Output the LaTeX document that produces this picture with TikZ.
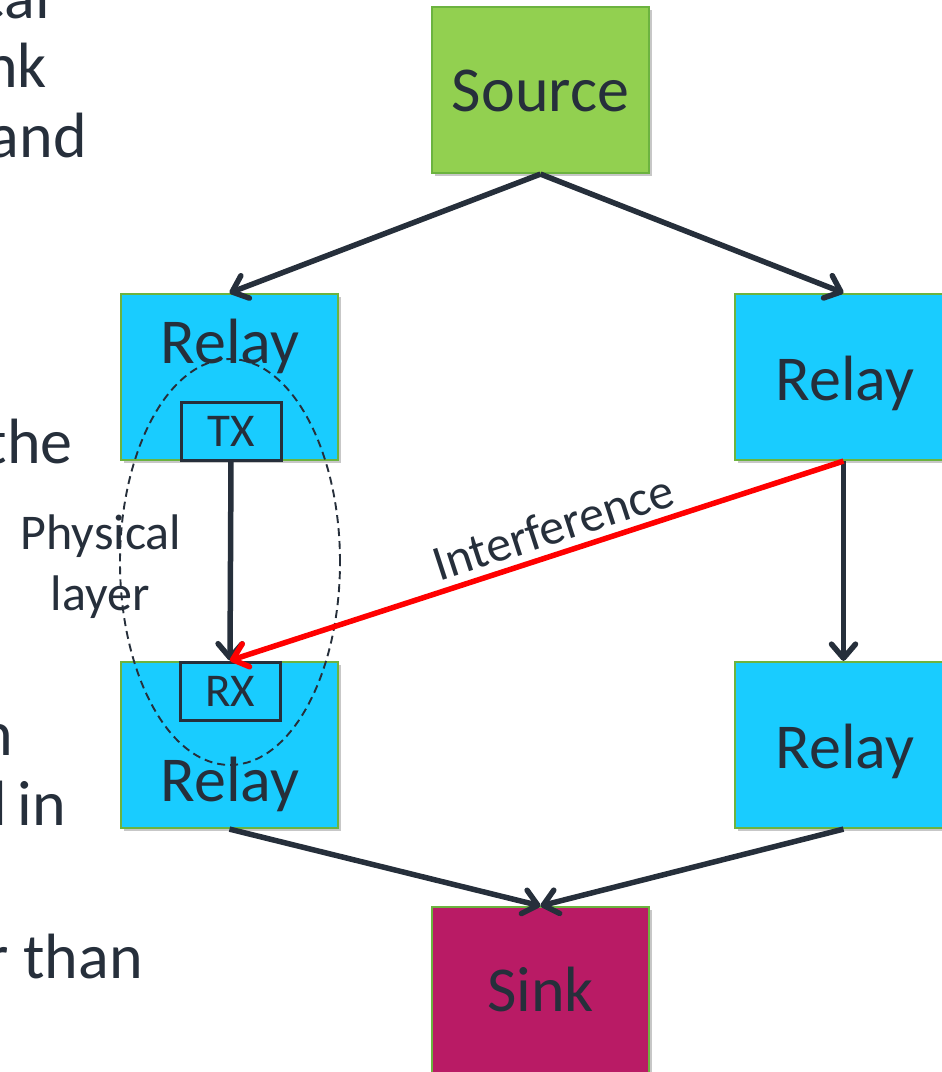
\documentclass[tikz,border=0pt]{standalone}
\usepackage{fontspec}
\setmainfont{Carlito}
\usetikzlibrary{arrows.meta,shadows,shapes.geometric}
\definecolor{txt}{HTML}{262F3B}
\definecolor{srcgreen}{HTML}{92D050}
\definecolor{boxline}{HTML}{6CB33F}
\definecolor{relaycyan}{HTML}{19CCFF}
\definecolor{sinkmag}{HTML}{B91B65}
\tikzset{
  nodebox/.style={rectangle, draw=boxline, line width=2.2pt, minimum width=217pt, minimum height=166pt, inner sep=0pt,
    drop shadow={shadow xshift=2.5pt, shadow yshift=-3pt, opacity=0.22, fill=black}},
  relaybox/.style={nodebox, fill=relaycyan},
  trxbox/.style={rectangle, draw=txt, line width=3pt, fill=relaycyan, minimum width=100pt, minimum height=58pt, inner sep=0pt,
    font=\fontsize{47}{55}\selectfont, text=txt},
  bigtext/.style={font=\fontsize{64}{76}\selectfont, text=txt, inner sep=0pt},
  midtext/.style={font=\fontsize{50}{60}\selectfont, text=txt, inner sep=0pt},
  flow/.style={draw=txt, line width=5.5pt, -{Straight Barb[length=14pt, width=24pt, line width=5.5pt, round]}},
  interf/.style={draw=red, line width=5.5pt, -{Straight Barb[length=14pt, width=24pt, line width=5.5pt, round]}},
}
\begin{document}
\begin{tikzpicture}[x=1pt,y=-1pt]
\useasboundingbox (0,0) rectangle (942,1072);
% boxes
\node[nodebox, fill=srcgreen] (src) at (540.5,90) {};
\node[relaybox] (rlt) at (229.5,377) {};
\node[relaybox] (rrt) at (843.5,377) {};
\node[relaybox] (rlb) at (229.5,745) {};
\node[relaybox] (rrb) at (843.5,745) {};
\node[nodebox, fill=sinkmag] (sink) at (540.5,990) {};
% TX / RX
\node[trxbox] (tx) at (231,431) {TX};
\node[trxbox] (rx) at (230,691) {RX};
% texts inside boxes
\node[bigtext, anchor=base] (srct) at (540.5,111) {Source};
\node[bigtext, anchor=base] (rltt) at (230,363) {Relay};
\node[bigtext, anchor=base] (rrtt) at (845,400) {Relay};
\node[bigtext, anchor=base] (rlbt) at (230,801) {Relay};
\node[bigtext, anchor=base] (rrbt) at (845,768) {Relay};
\node[bigtext, anchor=base] (sinkt) at (540.5,1011) {Sink};
% physical layer ellipse
\node[draw=txt, line width=1.9pt, dash pattern=on 8pt off 5pt, ellipse, minimum width=220pt, minimum height=406pt, inner sep=0pt] (phy) at (230,562) {};
\node[midtext, anchor=base] (phy1) at (101,549) {Physical};
\node[midtext, anchor=base] (phy2) at (100,610) {layer};
% connectors
\draw[flow] (src.south) -- (rlt.north);
\draw[flow] (src.south) -- (rrt.north);
\draw[flow] (tx.south) -- (rx.north);
\draw[flow] (rrt.south) -- (rrb.north);
\draw[flow] (rlb.south) -- (sink.north);
\draw[flow] (rrb.south) -- (sink.north);
\draw[interf] (rrt.south) -- node[midtext, pos=0.46, above=7pt, sloped] (intl) {Interference} (rx.north);
% cut-off slide text on the left
\node[bigtext, anchor=base east] (f1) at (50,18) {cal};
\node[bigtext, anchor=base east] (f2) at (47,87) {nk};
\node[bigtext, anchor=base east] (f3) at (87,157) {and};
\node[bigtext, anchor=base east] (f4) at (73,463) {the};
\node[bigtext, anchor=base east] (f5) at (13,755) {n};
\node[bigtext, anchor=base east] (f6) at (66,825) {l\kern-4pt\ in};
\node[bigtext, anchor=base east] (f7) at (143,978) {r than};
\end{tikzpicture}
\end{document}
